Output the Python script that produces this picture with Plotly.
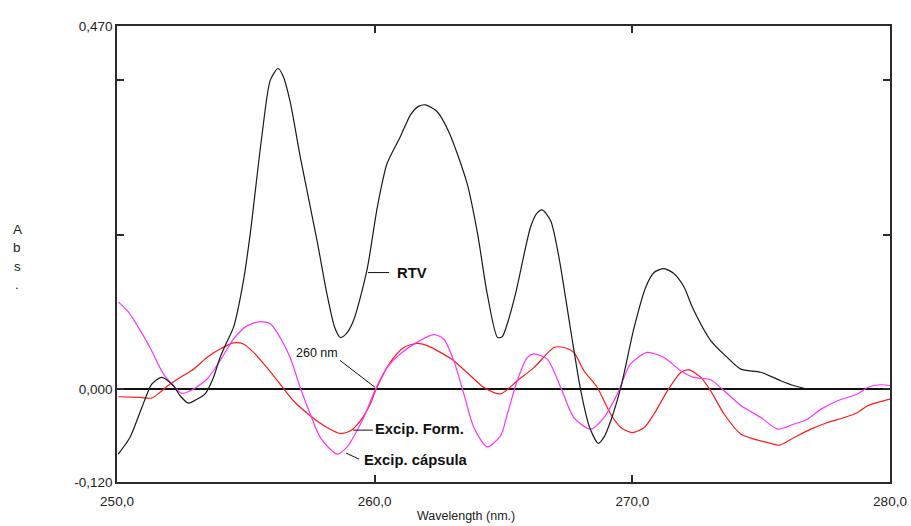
import plotly.graph_objects as go

# ---------------- data ----------------
rtv_x = [250.05, 250.5, 250.96, 251.35, 251.74, 252.19, 252.45, 252.77, 253.1, 253.42,
         253.74, 254.0, 254.26, 254.52, 254.91, 255.17, 255.62, 255.95, 256.25, 256.45,
         256.72, 257.11, 257.76, 258.15, 258.45, 258.67, 258.9, 259.18, 259.70, 260.1,
         260.48, 261.0, 261.39, 261.7, 261.97, 262.4, 262.88, 263.59, 264.0, 264.37,
         264.77, 264.95, 265.15, 265.47, 266.05, 266.3, 266.50, 266.83, 267.15, 267.61,
         268.0, 268.35, 268.68, 268.9, 269.16, 269.55, 270.07, 270.52, 270.84, 271.23,
         271.6, 272.01, 272.33, 273.04, 273.69, 274.21, 274.99, 275.76, 276.28, 276.80]
rtv_y = [-0.084, -0.0625, -0.024, 0.0067, 0.0153, 0.0045, -0.0084, -0.018, -0.013, -0.006,
         0.015, 0.041, 0.061, 0.080, 0.141, 0.201, 0.327, 0.400, 0.415, 0.405,
         0.372, 0.301, 0.193, 0.123, 0.080, 0.067, 0.072, 0.089, 0.154, 0.235,
         0.292, 0.327, 0.355, 0.366, 0.368, 0.360, 0.333, 0.266, 0.200, 0.123,
         0.067, 0.068, 0.085, 0.124, 0.210, 0.228, 0.232, 0.218, 0.171, 0.076,
         -0.002, -0.050, -0.070, -0.062, -0.041, 0.002, 0.080, 0.132, 0.151, 0.156,
         0.150, 0.132, 0.106, 0.063, 0.041, 0.026, 0.022, 0.011, 0.0045, 0.0]

caps_x = [250.05, 250.44, 250.83, 251.28, 251.80, 252.19, 252.51, 252.84, 253.49, 254.0,
          254.52, 255.04, 255.56, 255.95, 256.33, 256.72, 257.11, 257.50, 257.89, 258.54,
          258.92, 259.57, 260.03, 260.48, 261.0, 261.65, 262.29, 262.68, 263.07, 263.46,
          263.85, 264.37, 264.89, 265.15, 265.53, 265.92, 266.18, 266.70, 267.22, 267.73,
          268.38, 268.90, 269.42, 269.93, 270.58, 271.23, 271.88, 272.39, 273.04, 273.56,
          274.21, 274.99, 275.64, 276.28, 276.80, 277.32, 277.97, 278.74, 279.13, 279.65, 280.0]
caps_y = [0.113, 0.100, 0.080, 0.054, 0.020, 0.0045, -0.0054, -0.002, 0.013, 0.037,
          0.065, 0.082, 0.0876, 0.0846, 0.067, 0.041, 0.0023, -0.032, -0.0625, -0.084,
          -0.075, -0.037, 0.0, 0.028, 0.046, 0.061, 0.0707, 0.065, 0.037, -0.006,
          -0.0495, -0.0746, -0.060, -0.032, 0.011, 0.041, 0.0457, 0.039, 0.0023, -0.0366,
          -0.0516, -0.0366, -0.006, 0.0327, 0.0477, 0.041, 0.024, 0.0153, 0.0123, -0.002,
          -0.021, -0.0366, -0.0516, -0.045, -0.0387, -0.0257, -0.0149, -0.0062, 0.0023, 0.0058, 0.0045]

form_x = [250.05, 250.89, 251.35, 251.67, 252.06, 252.45, 252.97, 253.49, 254.0, 254.52,
          254.91, 255.30, 255.82, 256.33, 256.85, 257.50, 258.15, 258.67, 259.06, 259.44,
          259.83, 260.03, 260.61, 261.13, 261.65, 262.04, 262.55, 263.07, 263.72, 264.24,
          264.89, 265.53, 266.18, 266.96, 267.35, 267.73, 268.12, 268.64, 269.16, 269.55,
          270.0, 270.46, 270.84, 271.36, 271.88, 272.20, 272.66, 273.04, 273.56, 274.21,
          274.73, 275.25, 275.70, 276.28, 276.93, 277.58, 278.23, 278.74, 279.13, 279.65, 280.0]
form_y = [-0.0097, -0.0106, -0.0114, -0.004, 0.0067, 0.0153, 0.026, 0.041, 0.052, 0.060,
          0.0586, 0.0477, 0.028, 0.0067, -0.0149, -0.0344, -0.0495, -0.0573, -0.0538, -0.041,
          -0.019, -0.002, 0.035, 0.054, 0.0594, 0.0564, 0.0477, 0.037, 0.0175, 0.0023,
          -0.006, 0.011, 0.028, 0.054, 0.054, 0.0477, 0.024, 0.0023, -0.032, -0.0495,
          -0.056, -0.0495, -0.032, -0.002, 0.0218, 0.025, 0.0153, -0.002, -0.032, -0.058,
          -0.0646, -0.069, -0.0724, -0.0625, -0.0516, -0.043, -0.0366, -0.030, -0.0214, -0.0158, -0.0127]

x_ticks = [250, 260, 270, 280]
x_ticktext = ["250,0", "260,0", "270,0", "280,0"]
y_ticks = [-0.12, 0.0, 0.2, 0.4, 0.47]
y_ticktext = ["-0,120", "0,000", "", "", "0,470"]

FONT = "Liberation Sans, Arial, sans-serif"
FRAME = "#2b2b2b"

fig = go.Figure()
fig.add_trace(go.Scatter(x=form_x, y=form_y, mode="lines",
                         line=dict(color="#ff1a1a", width=1.2, shape="spline", smoothing=0.7),
                         name="Excip. Form.", showlegend=False))
fig.add_trace(go.Scatter(x=caps_x, y=caps_y, mode="lines",
                         line=dict(color="#ff33ff", width=1.2, shape="spline", smoothing=0.7),
                         name="Excip. cápsula", showlegend=False))
fig.add_trace(go.Scatter(x=rtv_x, y=rtv_y, mode="lines",
                         line=dict(color="#1a1a1a", width=1.2, shape="spline", smoothing=0.7),
                         name="RTV", showlegend=False))

# connector lines for labels
lines = [
    (259.74, 0.151, 260.56, 0.151),
    (258.65, 0.0374, 260.01, 0.0026),
    (259.16, -0.0529, 259.93, -0.0529),
    (258.89, -0.0826, 259.39, -0.0903),
]
for x0, y0, x1, y1 in lines:
    fig.add_shape(type="line", x0=x0, y0=y0, x1=x1, y1=y1, xref="x", yref="y",
                  line=dict(color="#111111", width=1))

def label(text, x, y, size, bold=True, anchor="left"):
    fig.add_annotation(x=x, y=y, xref="x", yref="y", text=f"<b>{text}</b>" if bold else text,
                       showarrow=False, xanchor=anchor, yanchor="middle",
                       font=dict(family=FONT, size=size, color="#111111"))

label("RTV", 260.79, 0.151, 14.8)
label("260 nm", 257.76, 0.0465, 12.5, bold=False, anchor="center")
label("Excip. Form.", 259.93, -0.0516, 14.8)
label("Excip. cápsula", 259.51, -0.0916, 14.8)

# "Abs." written vertically
for ch, py in zip(["A", "b", "s", "."], [230, 248, 266, 285]):
    fig.add_annotation(x=(17 - 117) / 773, y=(482 - py) / 456, xref="paper", yref="paper",
                       text=ch, showarrow=False, xanchor="center", yanchor="middle",
                       font=dict(family=FONT, size=13.5, color="#222222"))

fig.add_annotation(x=(466 - 117) / 773, y=(482 - 516) / 456, xref="paper", yref="paper",
                   text="Wavelength (nm.)", showarrow=False, xanchor="center", yanchor="middle",
                   font=dict(family=FONT, size=12.5, color="#222222"))

fig.update_layout(
    width=911, height=526,
    margin=dict(l=117, r=21, t=26, b=44, autoexpand=False),
    paper_bgcolor="white", plot_bgcolor="white",
    showlegend=False,
    xaxis=dict(range=[250, 280], tickvals=x_ticks, ticktext=x_ticktext, automargin=False,
               showgrid=False, zeroline=False, showline=True, linecolor=FRAME, linewidth=1.5,
               mirror="ticks", ticks="inside", ticklen=7, tickwidth=1.5, tickcolor=FRAME,
               ticklabelstandoff=6,
               tickfont=dict(family=FONT, size=13.5, color="#222222")),
    yaxis=dict(range=[-0.12, 0.47], tickvals=y_ticks, ticktext=y_ticktext, automargin=False,
               showgrid=False, zeroline=True, zerolinecolor="#111111", zerolinewidth=1.5,
               showline=True, linecolor=FRAME, linewidth=1.5,
               mirror="ticks", ticks="inside", ticklen=7, tickwidth=1.5, tickcolor=FRAME,
               ticklabelstandoff=0,
               tickfont=dict(family=FONT, size=13.5, color="#222222")),
)

fig.write_html("out.html")
